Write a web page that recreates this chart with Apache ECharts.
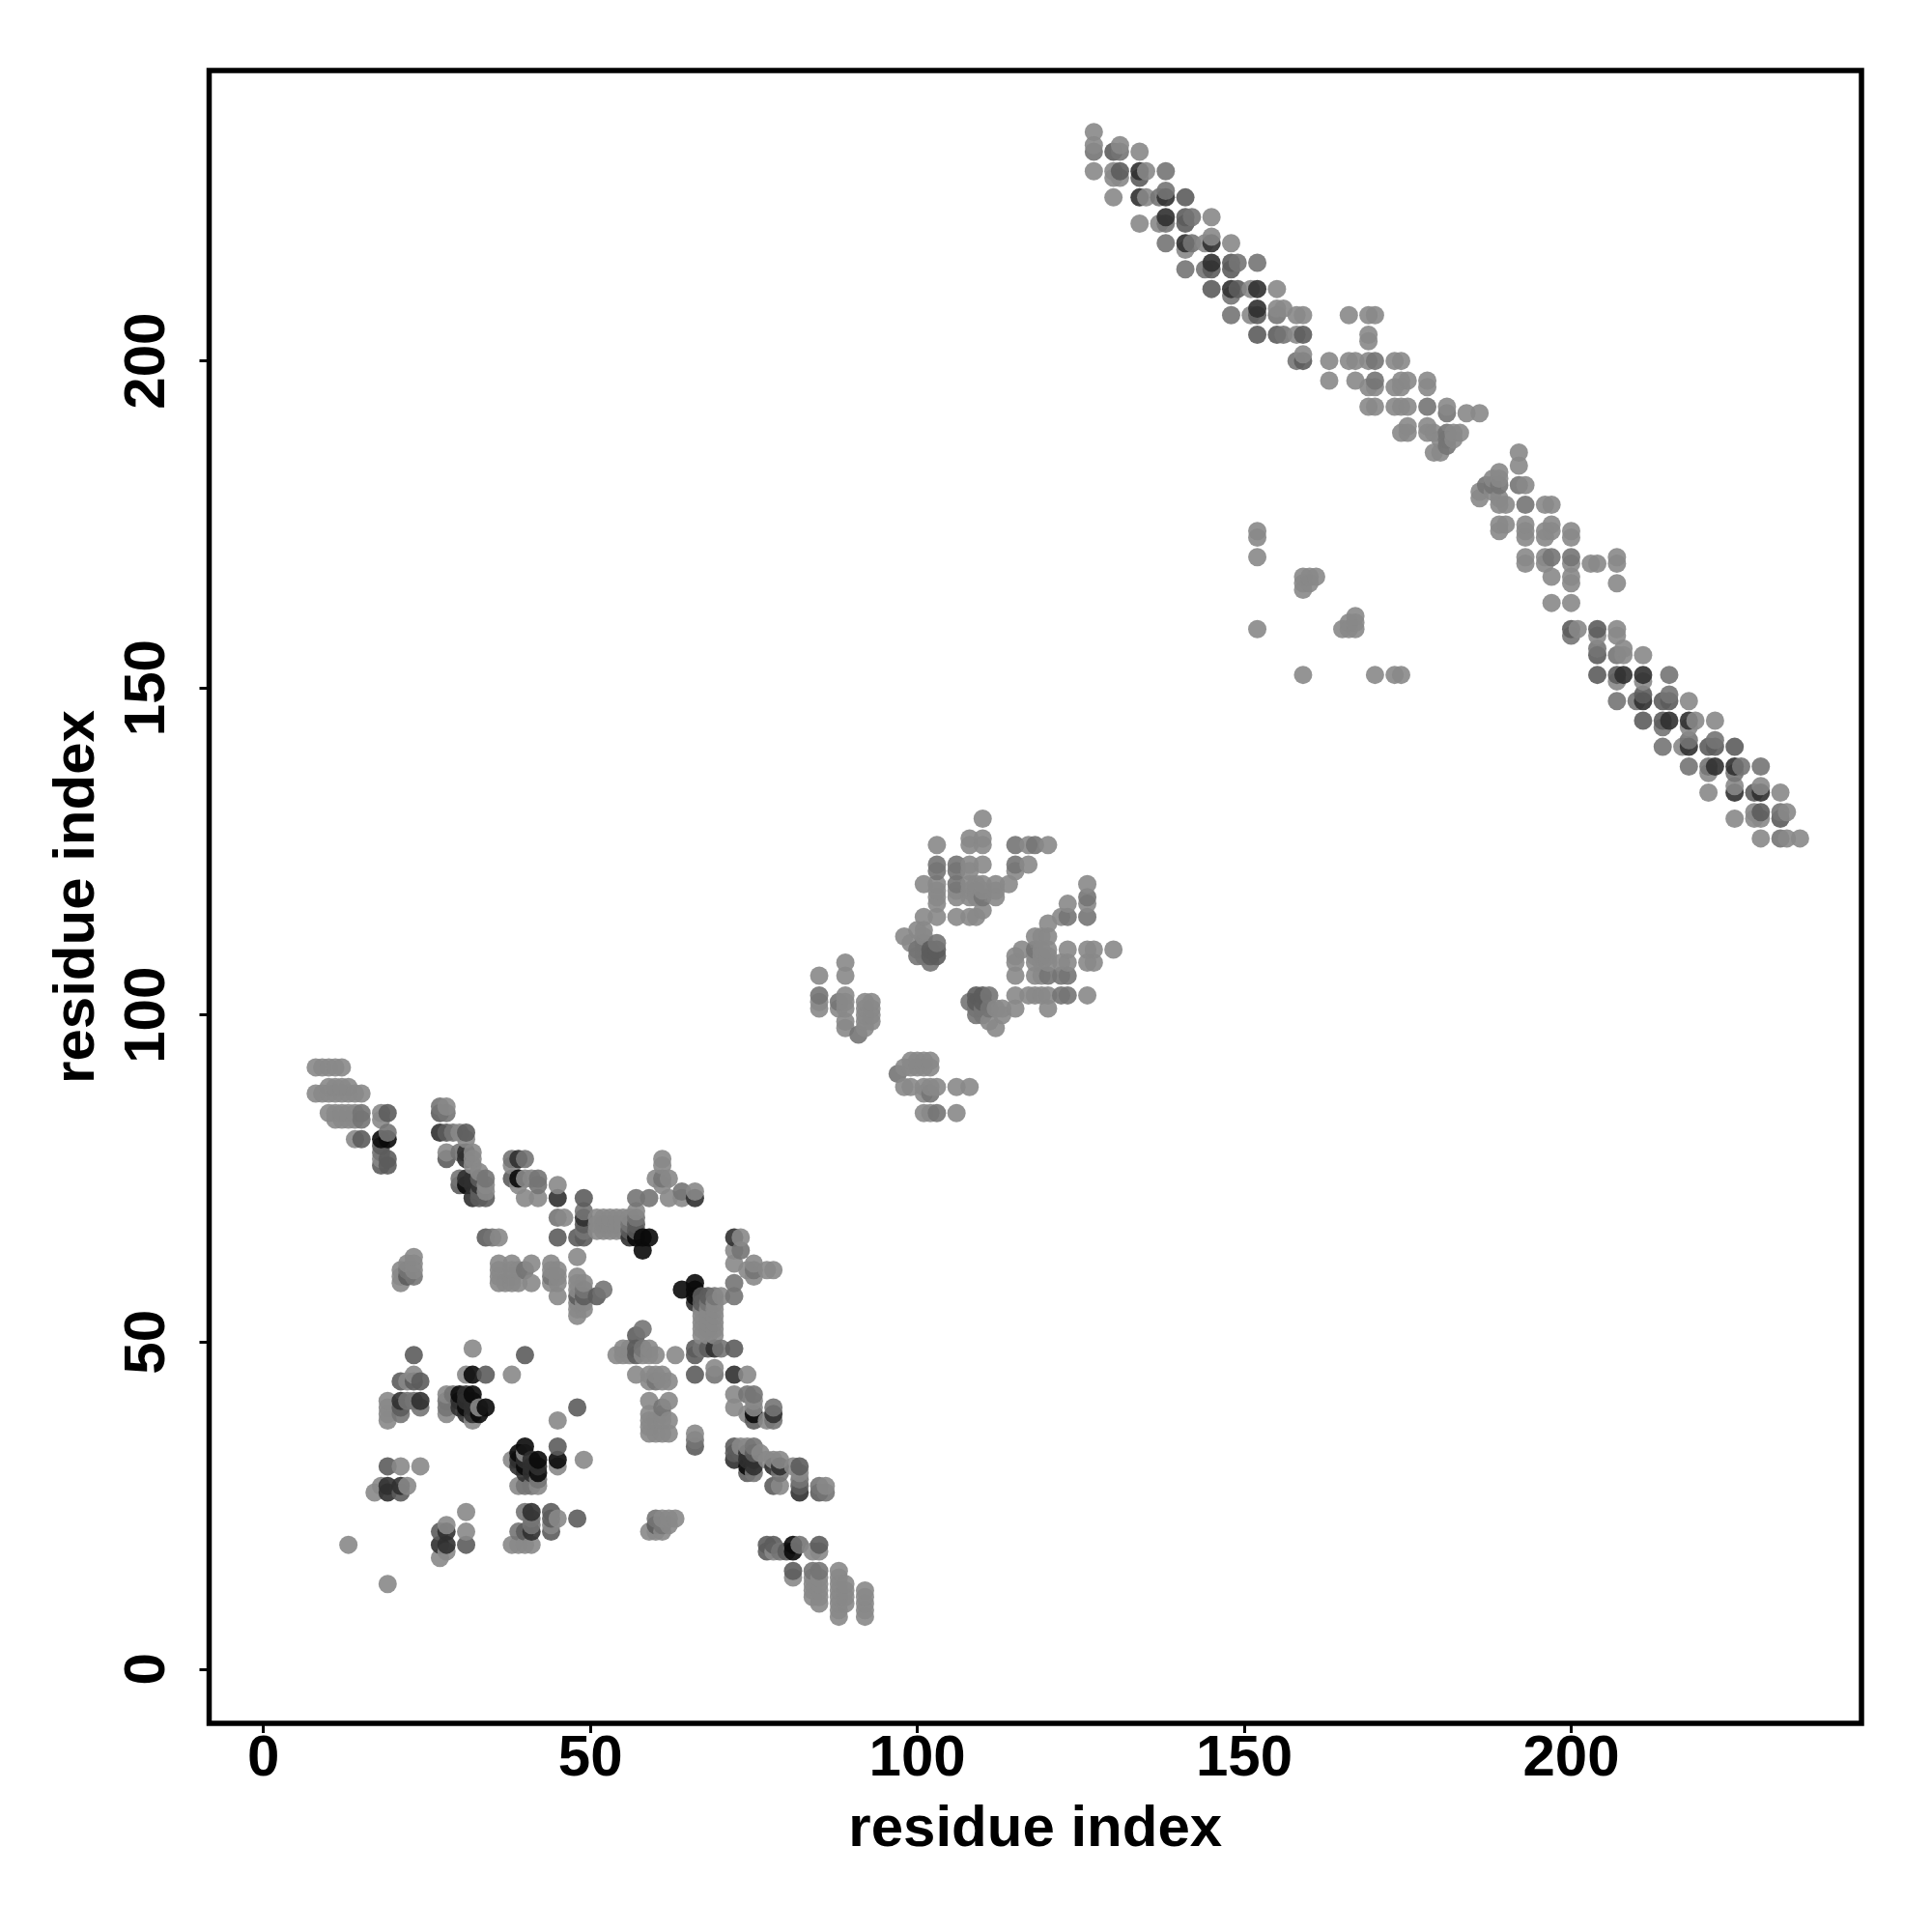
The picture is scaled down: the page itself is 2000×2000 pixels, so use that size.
<!DOCTYPE html>
<html><head><meta charset="utf-8">
<style>html,body{margin:0;padding:0;background:#fff}#c{width:2000px;height:2000px}</style>
<script src="https://cdn.jsdelivr.net/npm/echarts@6/dist/echarts.min.js"></script></head>
<body><div id="c"></div>
<script>
// Contact map: the map is symmetric, each contact [i, j, strength] is read once (i < j) and shown at (i,j) and (j,i).
// strength: 1 weak ... 5 strong
const tickValues = [0, 50, 100, 150, 200];
const axisTitle = 'residue index';
const shades = { 1: 136, 2: 116, 3: 92, 4: 48, 5: 10 };

const farBand = [[127,235,1],[127,233,1],[127,232,2],[127,229,1],[130,232,3],[131,233,1],[131,232,2],[134,232,1],[130,229,1],[130,228,1],[131,229,3],[131,228,1],[134,229,4],[134,228,3],[135,229,1],[138,229,2],[130,225,1],[134,225,4],[135,225,1],[137,225,2],[138,225,4],[138,226,2],[141,225,3],[134,221,1],[137,221,1],[138,222,4],[138,221,2],[141,222,3],[141,221,3],[142,222,2],[145,222,1],[138,218,2],[141,218,4],[141,217,1],[142,218,2],[144,218,1],[145,218,4],[145,219,1],[148,218,1],[141,214,2],[144,214,2],[145,215,4],[145,214,3],[148,215,3],[148,214,3],[149,215,2],[152,215,2],[145,211,3],[148,211,4],[148,210,2],[149,211,3],[151,211,1],[152,211,4],[155,211,1],[148,207,2],[151,207,1],[152,208,4],[152,207,3],[155,208,1],[155,207,2],[156,208,1],[158,207,1],[159,207,1],[152,204,3],[155,204,3],[156,204,2],[158,204,1],[159,204,3],[159,201,1],[158,200,2],[159,200,3]];
const nearBand = [[163,200,1],[166,200,1],[167,200,1],[163,197,1],[167,197,1],[166,207,1],[169,207,1],[170,207,1],[169,204,1],[169,203,1],[169,200,1],[170,200,2],[173,200,1],[174,200,1],[170,197,2],[169,196,1],[170,196,1],[173,196,1],[174,196,1],[174,197,1],[175,197,1],[178,197,1],[178,196,1],[169,193,1],[170,193,1],[173,193,1],[174,193,1],[175,193,1],[178,193,2],[181,193,1],[181,192,2],[184,192,1],[186,192,1],[175,190,1],[174,189,1],[175,189,1],[178,190,1],[178,189,1],[179,189,1],[181,189,2],[182,189,1],[183,189,1],[181,188,2],[180,188,1],[182,188,1],[181,187,2],[180,186,1],[179,186,1]];
const isolated = [[152,174,1],[152,173,1],[152,170,1],[152,159,1],[159,167,1],[160,167,1],[161,167,1],[159,166,1],[160,166,1],[159,165,1]];
const middleHigh = [[110,130,1],[108,127,1],[110,127,1],[103,126,1],[108,126,1],[110,126,1],[115,126,2],[117,126,1],[118,126,2],[120,126,1],[103,123,2],[106,123,2],[108,123,1],[110,123,1],[115,123,2],[117,123,1],[103,122,2],[106,122,2],[108,122,1],[115,122,1],[101,120,1],[103,120,1],[106,120,2],[108,120,1],[109,120,1],[110,120,1],[112,120,1],[114,120,1],[103,119,1],[106,119,1],[108,119,1],[109,119,1],[110,119,1],[112,119,1],[103,118,1],[106,118,1],[108,118,1],[109,118,1],[110,118,2],[112,118,1],[103,117,1],[101,115,1],[103,115,1],[106,115,1],[108,115,1],[109,115,1],[110,116,1],[98,112,1],[99,111,1],[100,113,1],[101,113,1],[100,110,2],[101,112,1],[101,109,2],[102,108,2],[103,111,2],[103,110,3],[103,109,3],[102,110,3],[100,109,2],[101,111,2],[102,109,3],[101,110,2]];
const middleLow = [[85,106,1],[89,108,1],[89,106,1],[85,103,2],[85,102,1],[85,101,1],[89,103,1],[88,102,2],[89,102,1],[88,101,1],[89,101,1],[89,99,1],[89,98,1],[91,97,2],[92,98,1],[92,102,1],[93,102,1],[92,101,1],[93,101,1],[92,100,1],[93,100,1],[92,99,1],[93,99,1]];
const startStrand = [[8,92,1],[9,92,1],[10,92,1],[11,92,1],[12,92,1],[10,89,1],[11,89,1],[12,89,1],[13,89,1],[8,88,1],[9,88,1],[10,88,1],[11,88,1],[12,88,1],[13,88,1],[14,88,1],[15,88,1],[10,85,1],[11,85,1],[12,85,1],[13,85,1],[14,85,1],[15,85,2],[18,85,1],[19,85,3],[11,84,1],[12,84,1],[13,84,1],[14,84,1],[15,84,2],[18,84,1],[14,81,1],[15,81,3],[18,81,5],[19,82,2],[19,81,5],[18,80,3],[18,78,1],[19,78,3],[18,77,3],[19,77,3],[18,79,2]];
const secondStrand = [[27,86,2],[28,86,1],[27,85,3],[28,85,2],[27,82,4],[28,82,3],[29,82,2],[30,82,1],[31,82,3],[31,81,1],[28,79,1],[30,79,2],[31,79,4],[32,79,1],[28,78,3],[31,78,4],[32,78,1],[30,75,2],[30,74,3],[31,75,4],[31,74,5],[32,75,4],[32,74,4],[32,72,4],[33,72,3],[34,72,3],[34,75,2],[34,74,1],[34,73,1],[33,75,3],[33,76,1],[32,77,1],[33,73,3],[33,74,4]];
const thirdStrand = [[38,78,2],[39,78,4],[40,78,2],[38,77,1],[38,75,3],[39,75,5],[39,74,1],[40,75,1],[41,75,1],[42,75,2],[42,74,2],[40,72,1],[42,72,1],[45,74,1],[45,72,4],[45,69,2],[46,69,1],[49,72,3],[49,70,2],[49,69,4],[49,68,3],[49,67,2],[48,66,3],[49,66,3],[45,66,3],[51,69,1],[52,69,1],[53,69,1],[54,69,1],[55,69,1],[56,69,1],[51,68,1],[52,68,1],[53,68,1],[54,68,1],[55,68,1],[56,68,2],[51,67,1],[52,67,1],[53,67,1],[54,67,1],[55,67,1],[56,67,3],[57,70,1],[57,69,2],[57,68,3],[57,67,3],[56,66,4],[57,72,2],[59,72,2],[61,78,1],[61,77,1],[60,75,1],[61,75,2],[62,75,1],[61,74,1],[62,72,1],[64,73,2],[64,72,1],[66,73,1],[66,72,4],[58,66,5],[59,66,5],[57,66,5],[58,64,5]];
const loopContacts = [[23,63,1],[22,62,1],[23,62,1],[21,61,1],[22,61,2],[23,61,1],[21,60,1],[22,60,3],[23,60,2],[21,59,1],[34,66,3],[35,66,2],[36,66,1],[36,62,1],[36,61,1],[36,60,1],[36,59,1],[37,59,1],[38,62,1],[38,61,1],[38,60,1],[38,59,1],[39,61,1],[39,59,1],[40,61,2],[41,62,1],[41,59,1],[44,62,1],[44,61,1],[45,61,1],[44,60,2],[45,60,1],[44,59,1],[45,59,1],[45,57,1],[48,63,1],[48,60,1],[48,59,1],[49,59,1],[48,58,1],[49,58,2],[48,57,3],[49,57,3],[48,56,1],[49,56,1],[48,55,1],[49,55,1],[48,54,1],[51,57,3],[52,58,2]];
const lowerContacts = [[23,48,3],[23,45,1],[21,44,3],[22,44,1],[23,44,3],[24,44,3],[19,41,1],[21,41,4],[22,41,2],[23,41,2],[24,41,4],[19,40,1],[21,40,3],[24,40,2],[19,39,1],[21,39,2],[19,38,1],[32,49,1],[31,45,1],[32,45,5],[34,45,3],[38,45,1],[28,42,1],[29,42,2],[30,42,5],[31,42,4],[32,42,5],[28,41,2],[30,41,4],[31,41,4],[32,41,4],[28,40,2],[30,40,4],[31,40,5],[32,40,4],[33,40,1],[34,40,5],[28,39,1],[31,39,4],[32,39,4],[33,39,5],[32,38,1],[40,48,3],[13,19,1],[17,27,1],[18,28,1],[19,27,4],[19,28,4],[21,27,3],[21,28,4],[22,28,1],[19,31,3],[21,31,1],[24,31,1]];

const allContacts = [farBand, nearBand, isolated, middleHigh, middleLow, startStrand, secondStrand, thirdStrand, loopContacts, lowerContacts];

const seen = new Set();
const points = [];
allContacts.forEach(function (list) {
  list.forEach(function (c) {
    [[c[0], c[1], c[2]], [c[1], c[0], c[2]]].forEach(function (p) {
      const key = p[0] + '_' + p[1];
      if (!seen.has(key)) { seen.add(key); points.push(p); }
    });
  });
});
points.sort(function (a, b) { return a[0] - b[0] || a[1] - b[1]; });

const chart = echarts.init(document.getElementById('c'));
const font = 'Liberation Sans';
function axis(extra) {
  return Object.assign({
    type: 'value', min: -8.3, max: 244.4, name: axisTitle, nameLocation: 'middle',
    nameTextStyle: { fontFamily: font, fontWeight: 'bold', fontSize: 60, color: '#000' },
    axisLine: { show: false, onZero: false }, splitLine: { show: false },
    axisTick: { show: true, length: 10, customValues: tickValues, lineStyle: { color: '#000', width: 3 } },
    axisLabel: { customValues: tickValues, fontFamily: font, fontWeight: 'bold', fontSize: 60, color: '#000' }
  }, extra);
}
const xa = axis({ nameGap: 80 });
xa.axisLabel.margin = 7;
const ya = axis({ nameGap: 106, nameRotate: 90 });
ya.axisLabel.rotate = 90;
ya.axisLabel.margin = 33;
chart.setOption({
  animation: false,
  backgroundColor: '#fff',
  grid: { left: 216.5, top: 73, width: 1710.5, height: 1711, show: true, borderColor: '#000', borderWidth: 5.5, backgroundColor: 'transparent' },
  xAxis: xa,
  yAxis: ya,
  series: [{
    type: 'scatter', large: false, symbol: 'circle', symbolSize: 19, data: points, clip: false,
    itemStyle: { opacity: 0.9, color: function (p) { const g = shades[p.value[2]]; return 'rgb(' + g + ',' + g + ',' + g + ')'; } }
  }]
});
</script></body></html>
